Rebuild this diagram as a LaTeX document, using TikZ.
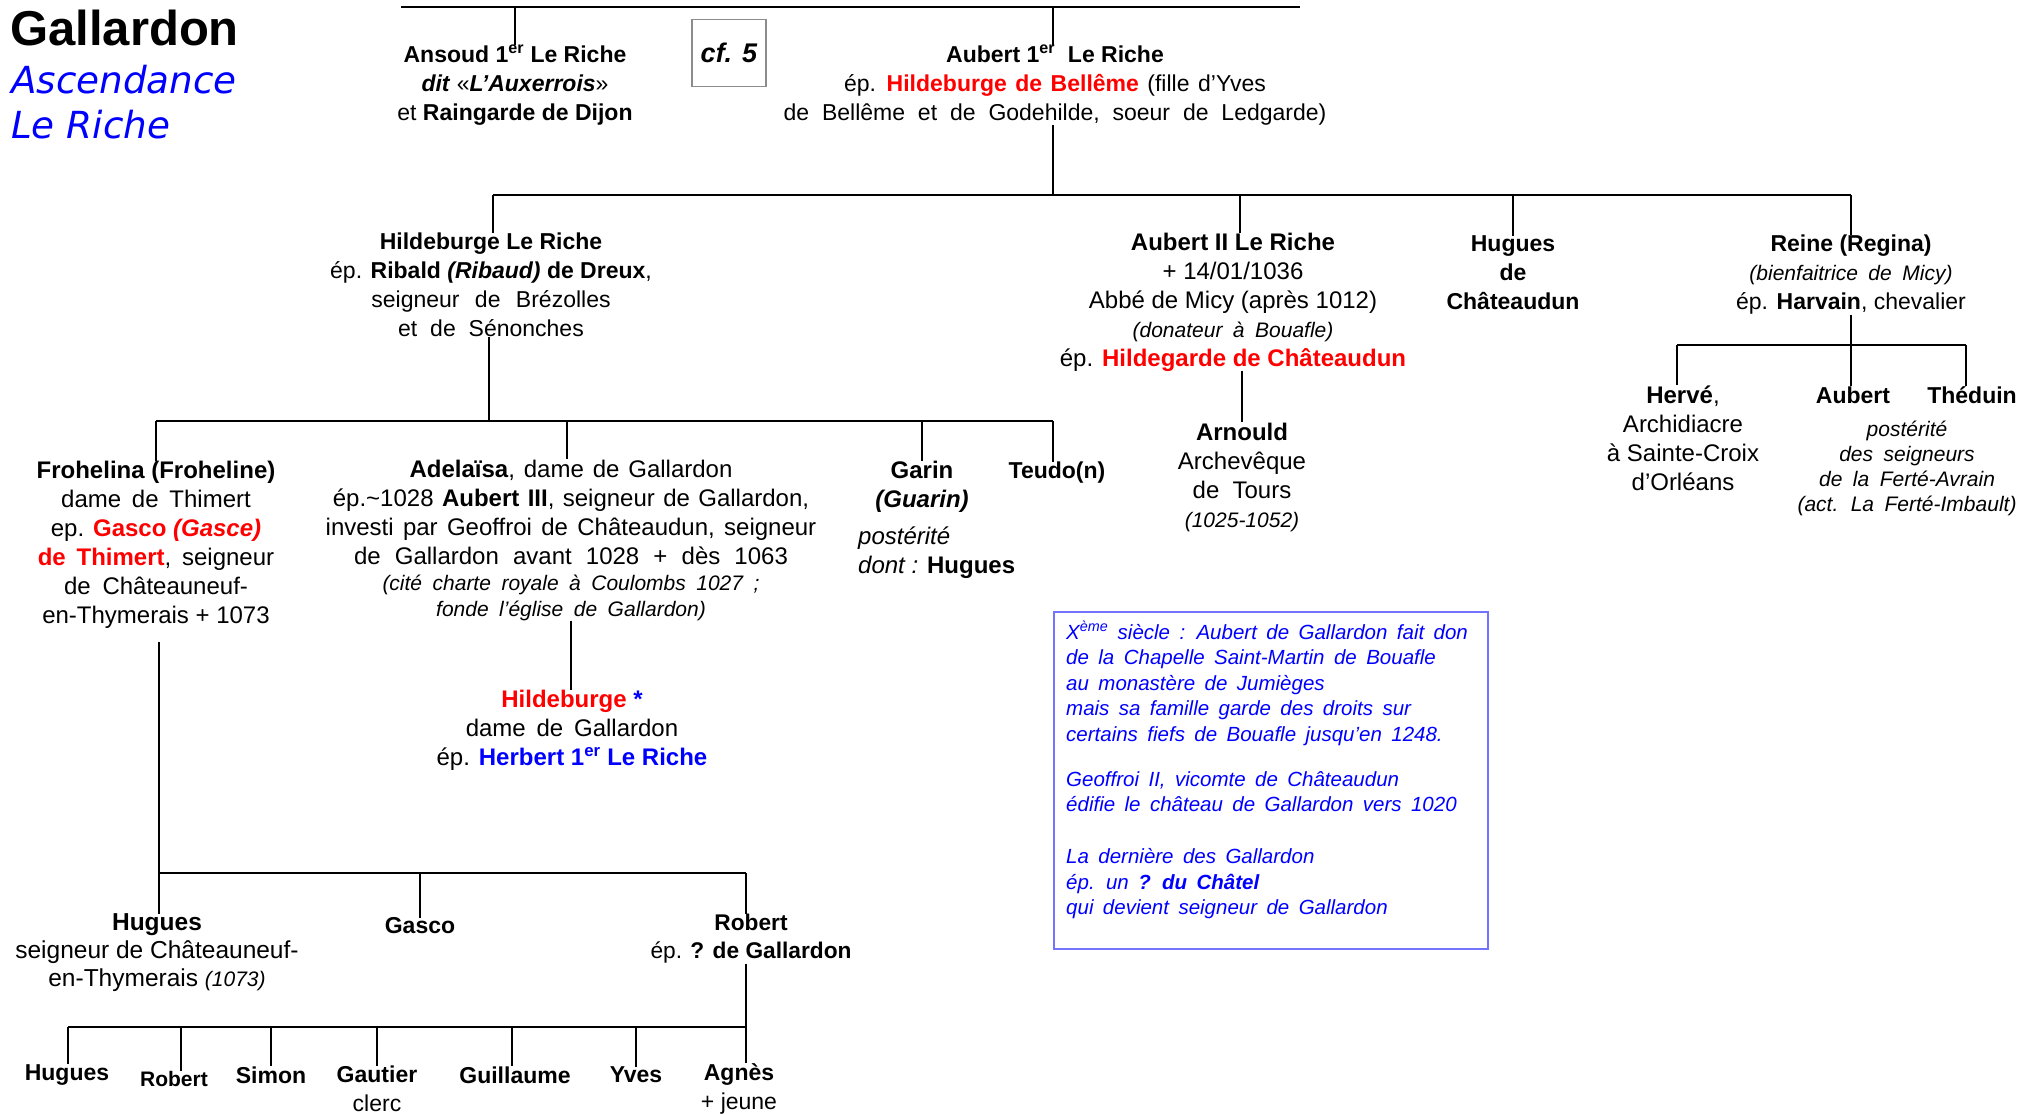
\documentclass[tikz,border=0pt]{standalone}
\usepackage{fontspec}
\setmainfont{Liberation Sans}
\newfontfamily\dvsans{DejaVu Sans}
\usetikzlibrary{calc}
\definecolor{cred}{RGB}{255,0,0}
\definecolor{cblue}{RGB}{0,0,255}
\definecolor{cboxb}{RGB}{115,115,255}
\definecolor{cgray}{RGB}{140,140,140}
\newcommand{\szA}{\fontsize{24}{29}\selectfont}
\newcommand{\szB}{\fontsize{23}{29}\selectfont}
\newcommand{\wsp}[1]{\spaceskip=#1em\relax}
\newcommand{\smallit}{\fontsize{21}{25}\selectfont\itshape\spaceskip=0.5em plus 0.1em\relax}
\newcommand{\notefont}{\fontsize{20.5}{25.5}\selectfont\itshape\spaceskip=0.46em plus 0.1em\relax}
\begin{document}
\begin{tikzpicture}[x=1pt,y=-1pt,
  every node/.style={inner sep=0pt},
  txt/.style={align=center,font=\szA},
  txtb/.style={align=center,font=\szB},
  bname/.style={align=center,font=\szB\bfseries},
  ln/.style={line width=2.8pt},
  titleblue/.style={anchor=base west,font=\dvsans\fontsize{37.3}{40}\selectfont\itshape,text=cblue}]
\path[use as bounding box] (0,0) rectangle (2035,1114);

% title
\node[anchor=base west,font=\fontsize{49}{52}\selectfont\bfseries] (title) at (10,45) {Gallardon};
\node[titleblue] (asc) at (11,93) {Ascendance};
\node[titleblue] (lerich) at (11,138) {Le Riche};

% generation 1
\node[txtb] (ansoud) at (515,85) {\textbf{Ansoud 1\textsuperscript{er} Le Riche}\\ \textbf{\textit{dit}} «\textbf{\textit{L’Auxerrois}}»\\ et \textbf{Raingarde de Dijon}};
\node[draw=cgray,line width=1.3pt,minimum width=74pt,minimum height=67pt,font=\fontsize{27}{30}\selectfont\bfseries\itshape] (cf) at (729,53) {cf. 5};
\node[txtb] (aub1) at (1055,85) {\textbf{Aubert 1\textsuperscript{er}\ \ Le Riche}\\ {\wsp{0.37}ép. \textcolor{cred}{\textbf{Hildeburge de Bellême}} (fille d’Yves}\\ {\wsp{0.56}de Bellême et de Godehilde, soeur de Ledgarde)}};

% generation 2
\node[txtb] (hild) at (491,285) {\textbf{Hildeburge Le Riche}\\ ép. \textbf{Ribald \textit{(Ribaud)} de Dreux},\\ {\wsp{0.67}seigneur de Brézolles}\\ {\wsp{0.56}et de Sénonches}};
\node[txt] (aub2) at (1233,302) {\textbf{Aubert II Le Riche}\\ + 14/01/1036\\ Abbé de Micy (après 1012)\\ {\smallit (donateur à Bouafle)}\\ ép. \textcolor{cred}{\textbf{Hildegarde de Châteaudun}}};
\node[bname] (hugcd) at (1513,273) {Hugues\\ de\\ Châteaudun};
\node[txtb] (reine) at (1851,275) {\textbf{Reine (Regina)}\\ {\smallit (bienfaitrice de Micy)}\\ ép. \textbf{Harvain}, chevalier};

% generation 3
\node[txt] (froh) at (156,545) {\textbf{Frohelina (Froheline)}\\ {\wsp{0.45}dame de Thimert}\\ ep. \textcolor{cred}{\textbf{Gasco \textit{(Gasce)}}}\\ {\wsp{0.45}\textcolor{cred}{\textbf{de Thimert}}, seigneur}\\ {\wsp{0.49}de Châteauneuf-}\\ en-Thymerais + 1073};
\node[txt] (adel) at (571,540) {{\wsp{0.37}\textbf{Adelaïsa}, dame de Gallardon}\\ {\wsp{0.35}ép.\textasciitilde1028 \textbf{Aubert III}, seigneur de Gallardon,}\\ {\wsp{0.39}investi par Geoffroi de Châteaudun, seigneur}\\ {\wsp{0.59}de Gallardon avant 1028 + dès 1063}\\[-3pt] {\smallit (cité charte royale à Coulombs 1027 ;}\\[-3pt] {\smallit fonde l’église de Gallardon)}};
\node[txt,font=\szA\bfseries] (garin) at (922,487) {Garin\\ \textit{(Guarin)}};
\node[anchor=west,align=left,font=\szA] (gpost) at (858,553) {\textit{postérité}\\ \textit{dont :} \textbf{Hugues}};
\node[bname] (teudo) at (1057,473) {Teudo(n)};
\node[txt] (arnould) at (1242,477) {\textbf{Arnould}\\ Archevêque\\ {\wsp{0.55}de Tours}\\ {\smallit (1025-1052)}};
\node[txt] (herve) at (1683,438) {\textbf{Hervé},\\ Archidiacre\\ à Sainte-Croix\\ d’Orléans};
\node[bname] (aubR) at (1853,395) {Aubert};
\node[bname] (thed) at (1972,395) {Théduin};
\node[align=center,font=\smallit] (poster) at (1907,468) {postérité\\ des seigneurs\\ de la Ferté-Avrain\\ (act. La Ferté-Imbault)};

% Hildeburge (Adelaisa side)
\node[txt] (hild2) at (572,730) {\textcolor{cred}{\textbf{Hildeburge}} \textcolor{cblue}{\textbf{*}}\\ {\wsp{0.45}dame de Gallardon}\\ ép. \textcolor{cblue}{\textbf{Herbert 1\textsuperscript{er} Le Riche}}};

% note box
\draw[draw=cboxb,line width=1.4pt] (1054,612) rectangle (1488,949);
\node[anchor=north west,align=left,text=cblue,font=\notefont] (note) at (1066,621) {X\textsuperscript{ème} siècle : Aubert de Gallardon fait don\\ de la Chapelle Saint-Martin de Bouafle\\ au monastère de Jumièges\\ mais sa famille garde des droits sur\\ certains fiefs de Bouafle jusqu’en 1248.\\[19.5pt] Geoffroi II, vicomte de Châteaudun\\ édifie le château de Gallardon vers 1020\\[26.5pt] La dernière des Gallardon\\ ép. un \textbf{? du Châtel}\\ qui devient seigneur de Gallardon};

% generation 4 (Frohelina side)
\node[align=center,font=\fontsize{24.5}{28}\selectfont] (hug4) at (157,953) {\textbf{Hugues}\\ seigneur de Châteauneuf-\\ en-Thymerais {\smallit (1073)}};
\node[bname] (gasco) at (420,926) {Gasco};
\node[txtb,font=\fontsize{22.7}{28}\selectfont] (rob4) at (751,939) {\textbf{Robert}\\ ép. \textbf{? de Gallardon}};

% generation 5
\node[bname] (hug5) at (67,1075) {Hugues};
\node[font=\fontsize{21}{25}\selectfont\bfseries] (rob5) at (174,1079) {Robert};
\node[bname] (simon) at (271,1075) {Simon};
\node[txtb] (gautier) at (377,1089) {\textbf{Gautier}\\ clerc};
\node[bname] (guill) at (515,1075) {Guillaume};
\node[bname] (yves) at (636,1075) {Yves};
\node[txtb] (agnes) at (739,1089) {\textbf{Agnès}\\ + jeune};

% ---- connectors ----
\coordinate (tl) at (401,7); \coordinate (tr) at (1300,7);
\coordinate (ta) at (515,7); \coordinate (tb) at (1053,7);
\draw[ln] (tl) -- (tr);
\draw[ln] (ta) -- (ta |- ansoud.north);
\draw[ln] (tb) -- (tb |- aub1.north);

\coordinate (r2a) at (493,195); \coordinate (r2b) at (1240,195);
\coordinate (r2c) at (1513,195); \coordinate (r2d) at (1851,195);
\coordinate (b2) at (1053,195);
\draw[ln] (b2 |- aub1.south) -- (b2);
\draw[ln] (r2a) -- (r2d);
\draw[ln] (r2a) -- (r2a |- hild.north);
\draw[ln] (r2b) -- (r2b |- aub2.north);
\draw[ln] (r2c) -- (r2c |- hugcd.north);
\draw[ln] (r2d) -- (r2d |- reine.north);

\coordinate (b3) at (489,421);
\coordinate (r3a) at (156,421); \coordinate (r3b) at (567,421);
\coordinate (r3c) at (922,421); \coordinate (r3d) at (1053,421);
\draw[ln] (b3 |- hild.south) -- (b3);
\draw[ln] (r3a) -- (r3d);
\draw[ln] (r3a) -- (r3a |- froh.north);
\draw[ln] (r3b) -- (r3b |- adel.north);
\draw[ln] (r3c) -- (r3c |- garin.north);
\draw[ln] (r3d) -- (r3d |- teudo.north);

\coordinate (ax) at (1242,400);
\draw[ln] (ax |- aub2.south) -- (ax |- arnould.north);

\coordinate (rb) at (1851,345);
\coordinate (rbl) at (1677,345); \coordinate (rbr) at (1966,345);
\draw[ln] (rb |- reine.south) -- (rb |- aubR.north);
\draw[ln] (rbl) -- (rbr);
\draw[ln] (rbl) -- (rbl |- herve.north);
\draw[ln] (rbr) -- (rbr |- thed.north);

\coordinate (adx) at (571,650);
\draw[ln] (adx |- adel.south) -- (adx |- hild2.north);

\coordinate (r4a) at (159,873); \coordinate (r4b) at (420,873); \coordinate (r4c) at (746,873);
\draw[ln] ($(r4a |- froh.south)+(0,13)$) -- (r4a);
\draw[ln] (r4a) -- (r4c);
\draw[ln] (r4a) -- (r4a |- hug4.north);
\draw[ln] (r4b) -- (r4b |- gasco.north);
\draw[ln] (r4c) -- (r4c |- rob4.north);

\coordinate (r5a) at (68,1027); \coordinate (r5b) at (181,1027); \coordinate (r5c) at (271,1027);
\coordinate (r5d) at (377,1027); \coordinate (r5e) at (512,1027); \coordinate (r5f) at (636,1027);
\coordinate (r5g) at (746,1027);
\draw[ln] (r5g |- rob4.south) -- (r5g);
\draw[ln] (r5a) -- (r5g);
\draw[ln] (r5a) -- (r5a |- hug5.north);
\draw[ln] (r5b) -- (r5b |- rob5.north);
\draw[ln] (r5c) -- (r5c |- simon.north);
\draw[ln] (r5d) -- (r5d |- gautier.north);
\draw[ln] (r5e) -- (r5e |- guill.north);
\draw[ln] (r5f) -- (r5f |- yves.north);
\draw[ln] (r5g) -- (r5g |- agnes.north);
\end{tikzpicture}
\end{document}
